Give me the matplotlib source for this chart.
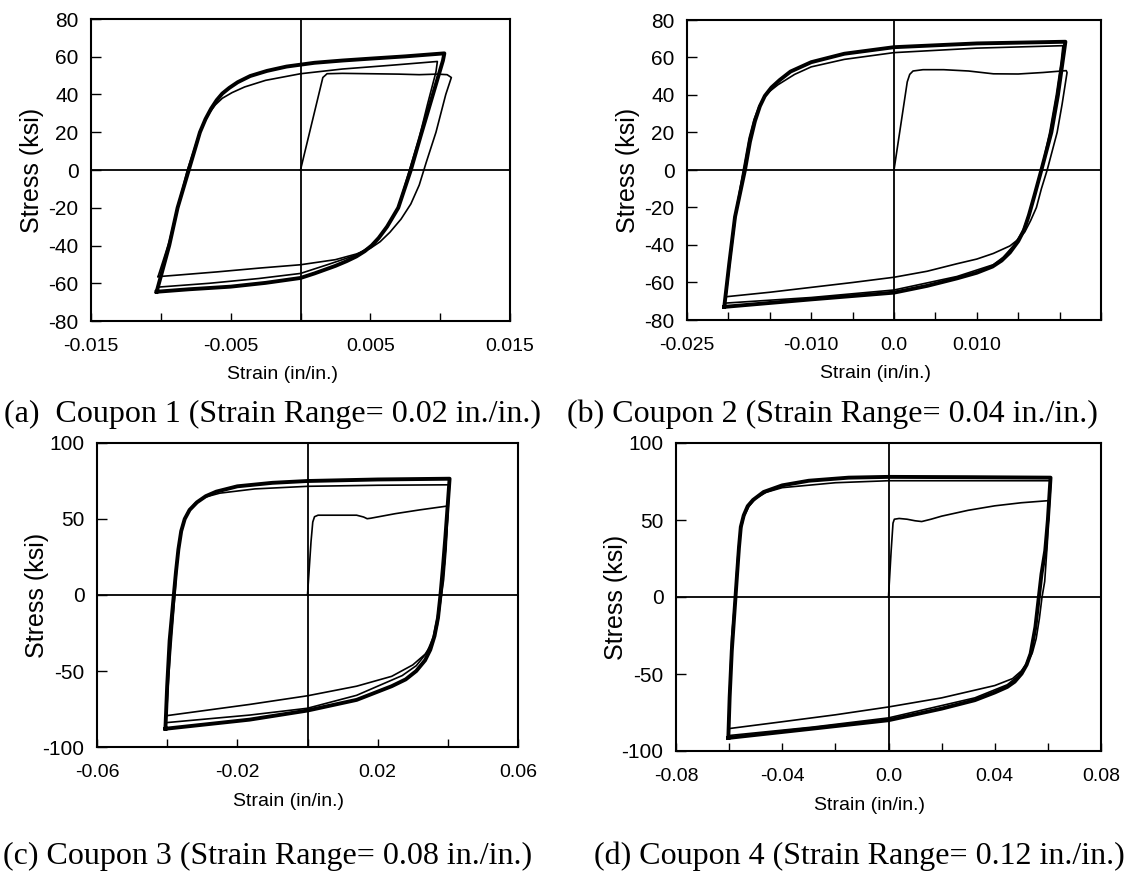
import matplotlib
matplotlib.use("Agg")
import matplotlib.pyplot as plt
import matplotlib.transforms as mtransforms

# ---- Coupon 1 (strain range 0.02) ----
a_first_x = [0.0, 0.0016, 0.0019, 0.0030, 0.0050, 0.0070, 0.0085, 0.0098, 0.0105, 0.0108,
             0.0104, 0.0097, 0.0090, 0.0085, 0.0079, 0.0072, 0.0064, 0.0057, 0.0050, 0.0040,
             0.0025, 0.0, -0.0030, -0.0060, -0.0090, -0.0102]
a_first_y = [0.0, 49.0, 51.0, 51.2, 51.0, 50.8, 50.5, 50.8, 50.5, 49.0,
             40.0, 20.0, 4.0, -8.0, -18.0, -26.0, -33.0, -38.0, -41.5, -44.5,
             -47.5, -50.2, -52.0, -54.0, -55.8, -56.5]
a_second_x = [-0.0102, -0.0094, -0.0088, -0.0081, -0.0073, -0.0069, -0.0065, -0.0061, -0.0056,
              -0.0049, -0.0040, -0.0025, 0.0, 0.0030, 0.0065, 0.0098, 0.0097, 0.0091, 0.0085,
              0.0078, 0.0070, 0.0062, 0.0056, 0.0050, 0.0040, 0.0020, 0.0, -0.0030, -0.0065,
              -0.0101]
a_second_y = [-56.5, -38.0, -20.0, 0.0, 18.0, 25.0, 30.5, 34.5, 38.0,
              41.0, 44.0, 47.5, 51.0, 53.5, 55.5, 57.5, 52.0, 35.0, 17.0,
              0.0, -20.0, -30.0, -36.0, -40.5, -45.0, -50.0, -54.8, -57.5, -60.0,
              -62.0]
a_stable_x = [-0.0103, -0.0094, -0.0088, -0.0080, -0.0072, -0.0068, -0.0064, -0.0060, -0.0056,
              -0.0051, -0.0045, -0.0036, -0.0024, -0.0010, 0.0010, 0.0030, 0.0050, 0.0075, 0.0103,
              0.0102, 0.0094, 0.0086, 0.0079, 0.0070, 0.0062, 0.0056, 0.0051, 0.0046, 0.0040,
              0.0033, 0.0025, 0.0010, 0.0, -0.0025, -0.0050, -0.0080, -0.0103]
a_stable_y = [-64.5, -40.0, -20.0, 0.0, 20.0, 27.0, 32.5, 37.0, 40.5,
              43.5, 46.5, 49.8, 52.5, 54.8, 56.8, 58.0, 59.0, 60.2, 61.8,
              58.0, 38.0, 18.0, 0.0, -20.0, -30.0, -36.0, -40.0, -43.0, -45.8,
              -48.3, -50.8, -54.8, -57.2, -59.8, -61.8, -63.2, -64.5]

# ---- Coupon 2 (strain range 0.04) ----
b_first_x = [0.0, 0.0016, 0.0019, 0.0023, 0.0035, 0.0060, 0.0090, 0.0120, 0.0150, 0.0180, 0.0208,
             0.0209, 0.0203, 0.0197, 0.0191, 0.0185, 0.0178, 0.0172, 0.0165, 0.0158, 0.0150,
             0.0140, 0.0120, 0.0100, 0.0076, 0.0040, 0.0, -0.0050, -0.0100, -0.0150, -0.0203]
b_first_y = [0.0, 47.0, 51.0, 52.8, 53.5, 53.5, 52.8, 51.3, 51.2, 52.0, 53.0,
             52.0, 35.0, 20.0, 10.0, 0.0, -10.0, -20.0, -27.0, -33.0, -37.0,
             -40.5, -44.5, -47.5, -50.0, -54.0, -57.2, -60.0, -62.6, -65.2, -67.6]
b_second_x = [-0.0203, -0.0197, -0.0190, -0.0182, -0.0175, -0.0169, -0.0163, -0.0157, -0.0150,
              -0.0140, -0.0120, -0.0100, -0.0060, 0.0, 0.0100, 0.0204, 0.0202, 0.0196, 0.0188,
              0.0178, 0.0170, 0.0162, 0.0155, 0.0145, 0.0132, 0.0120, 0.0076, 0.0, -0.0100,
              -0.0204]
b_second_y = [-67.6, -45.0, -20.0, 0.0, 17.0, 27.0, 34.0, 38.5, 42.0,
              45.5, 51.0, 55.0, 59.0, 62.6, 65.0, 66.3, 58.0, 40.0, 20.0,
              0.0, -13.0, -25.0, -33.0, -40.0, -46.5, -50.5, -56.8, -64.0, -68.0,
              -71.0]
b_stable_x = [-0.0205, -0.0199, -0.0192, -0.0180, -0.0174, -0.0168, -0.0162, -0.0156, -0.0148,
              -0.0138, -0.0125, -0.0100, -0.0060, 0.0, 0.0100, 0.0207, 0.0205, 0.0198, 0.0190,
              0.0178, 0.0170, 0.0163, 0.0157, 0.0150, 0.0140, 0.0130, 0.0119, 0.0100, 0.0076,
              0.0040, 0.0, -0.0100, -0.0205]
b_stable_y = [-73.0, -50.0, -25.0, 0.0, 15.0, 26.0, 34.0, 39.5, 44.0,
              48.0, 52.5, 57.5, 62.0, 65.5, 67.5, 68.4, 62.0, 40.0, 20.0,
              0.0, -13.0, -24.0, -32.0, -38.0, -44.0, -48.3, -51.5, -54.8, -57.8,
              -61.8, -65.4, -69.0, -73.0]

# ---- Coupon 3 (strain range 0.08) ----
c_first_x = [0.0, 0.0010, 0.0015, 0.0020, 0.0030, 0.0060, 0.0100, 0.0140, 0.0160, 0.0170, 0.0180,
             0.0250, 0.0320, 0.0401, 0.0395, 0.0388, 0.0382, 0.0370, 0.0355, 0.0335, 0.0300,
             0.0240, 0.0140, 0.0, -0.0165, -0.0402]
c_first_y = [0.0, 35.0, 48.0, 51.5, 52.5, 52.5, 52.5, 52.5, 51.3, 50.2, 50.5,
             53.5, 56.0, 58.6, 30.0, 10.0, 0.0, -20.0, -32.0, -39.0, -46.0,
             -53.5, -60.0, -66.3, -72.0, -79.4]
c_second_x = [-0.0402, -0.0396, -0.0388, -0.0378, -0.0372, -0.0365, -0.0355, -0.0340, -0.0320,
              -0.0290, -0.0250, -0.0150, 0.0, 0.0200, 0.0405, 0.0399, 0.0390, 0.0379, 0.0370,
              0.0358, 0.0340, 0.0310, 0.0270, 0.0140, 0.0, -0.0165, -0.0404]
c_second_y = [-79.4, -55.0, -30.0, 0.0, 20.0, 35.0, 47.0, 55.0, 60.5,
              64.5, 67.0, 69.8, 71.5, 72.2, 72.5, 50.0, 20.0, 0.0, -15.0,
              -28.0, -38.0, -46.5, -53.0, -66.0, -74.5, -79.0, -84.0]
c_stable_x = [-0.0405, -0.0400, -0.0393, -0.0381, -0.0375, -0.0368, -0.0360, -0.0350, -0.0336,
              -0.0315, -0.0290, -0.0260, -0.0200, -0.0100, 0.0, 0.0200, 0.0405, 0.0399, 0.0393,
              0.0386, 0.0379, 0.0372, 0.0362, 0.0350, 0.0335, 0.0310, 0.0280, 0.0240, 0.0140,
              0.0, -0.0165, -0.0405]
c_stable_y = [-88.0, -60.0, -30.0, 0.0, 15.0, 30.0, 42.0, 50.0, 56.0,
              61.0, 65.0, 68.0, 71.5, 73.8, 75.0, 76.0, 76.5, 57.0, 38.0,
              18.0, 0.0, -15.0, -27.0, -36.0, -43.0, -50.0, -55.5, -60.0, -69.0,
              -76.0, -82.0, -88.0]

# ---- Coupon 4 (strain range 0.12) ----
d_first_x = [0.0, 0.0010, 0.0017, 0.0022, 0.0040, 0.0070, 0.0100, 0.0125, 0.0160, 0.0200, 0.0300,
             0.0400, 0.0500, 0.0605, 0.0598, 0.0588, 0.0578, 0.0568, 0.0556, 0.0542, 0.0525,
             0.0500, 0.0467, 0.0400, 0.0200, 0.0, -0.0200, -0.0400, -0.0603]
d_first_y = [0.0, 30.0, 48.0, 50.5, 51.0, 50.5, 49.5, 49.0, 50.5, 52.5, 56.3,
             59.2, 61.2, 62.6, 35.0, 10.0, 0.0, -14.0, -27.0, -36.0, -42.0,
             -48.0, -53.0, -57.5, -65.5, -71.4, -76.5, -81.0, -85.5]
d_second_x = [-0.0603, -0.0597, -0.0590, -0.0577, -0.0572, -0.0566, -0.0558, -0.0545, -0.0525,
              -0.0500, -0.0460, -0.0400, -0.0200, 0.0, 0.0300, 0.0612, 0.0602, 0.0590, 0.0576,
              0.0566, 0.0553, 0.0535, 0.0515, 0.0490, 0.0447, 0.0325, 0.0, -0.0287, -0.0603]
d_second_y = [-85.5, -55.0, -25.0, 0.0, 15.0, 30.0, 42.0, 52.0, 59.0,
              64.0, 68.0, 71.0, 74.2, 75.5, 75.5, 75.5, 50.0, 30.0, 15.0,
              0.0, -19.5, -36.0, -45.0, -51.0, -57.0, -65.5, -78.5, -84.5, -90.0]
d_stable_x = [-0.0603, -0.0598, -0.0590, -0.0576, -0.0570, -0.0563, -0.0556, -0.0545, -0.0530,
              -0.0510, -0.0470, -0.0400, -0.0300, -0.0150, 0.0, 0.0300, 0.0610, 0.0600, 0.0590,
              0.0576, 0.0566, 0.0553, 0.0535, 0.0520, 0.0501, 0.0475, 0.0447, 0.0400, 0.0325,
              0.0200, 0.0, -0.0287, -0.0603]
d_stable_y = [-91.5, -65.0, -35.0, 0.0, 15.0, 32.0, 45.5, 53.0, 59.0,
              63.0, 68.2, 72.5, 75.5, 77.5, 78.0, 77.8, 77.5, 50.0, 30.0,
              15.0, 0.0, -19.5, -36.8, -44.0, -49.8, -55.0, -58.4, -62.0, -67.0,
              -72.5, -80.0, -85.5, -91.5]

# axis ticks / labels
a_xticks = [-0.015, -0.010, -0.005, 0.0, 0.005, 0.010, 0.015]
a_xlabels = ['-0.015', '', '-0.005', '', '0.005', '', '0.015']
b_xticks = [-0.025, -0.020, -0.015, -0.010, -0.005, 0.0, 0.005, 0.010, 0.015, 0.020, 0.025]
b_xlabels = ['-0.025', '', '', '-0.010', '', '0.0', '', '0.010', '', '', '']
c_xticks = [-0.06, -0.04, -0.02, 0.0, 0.02, 0.04, 0.06]
c_xlabels = ['-0.06', '', '-0.02', '', '0.02', '', '0.06']
d_xticks = [-0.08, -0.06, -0.04, -0.02, 0.0, 0.02, 0.04, 0.06, 0.08]
d_xlabels = ['-0.08', '', '-0.04', '', '0.0', '', '0.04', '', '0.08']
yticks_80 = [-80, -60, -40, -20, 0, 20, 40, 60, 80]
yticks_100 = [-100, -50, 0, 50, 100]

captions = ['(a)  Coupon 1 (Strain Range= 0.02 in./in.)',
            '(b) Coupon 2 (Strain Range= 0.04 in./in.)',
            '(c) Coupon 3 (Strain Range= 0.08 in./in.)',
            '(d) Coupon 4 (Strain Range= 0.12 in./in.)']

W, H = 1126, 888
fig = plt.figure(figsize=(W / 100, H / 100), dpi=100)

sans = ['Liberation Sans', 'DejaVu Sans']
down = mtransforms.ScaledTranslation(0, -4 / 100, fig.dpi_scale_trans)


def make_axes(left, top, right, bottom):
    return fig.add_axes([left / W, 1 - bottom / H, (right - left) / W, (bottom - top) / H])


def style(ax, xlim, xticks, xlabels, ylim, yticks):
    ax.set_xlim(xlim)
    ax.set_ylim(ylim)
    ax.axhline(0, color='black', lw=1.3, zorder=1)
    ax.axvline(0, color='black', lw=1.3, zorder=1)
    ax.set_xticks(xticks)
    ax.set_xticklabels(xlabels, family=sans, fontsize=14)
    ax.set_yticks(yticks)
    ax.set_yticklabels([str(v) for v in yticks], family=sans, fontsize=15)
    for lab in ax.get_yticklabels():
        lab.set_transform(lab.get_transform() + down)
    ax.tick_params(axis='x', direction='in', length=6, width=1.0, pad=12)
    ax.tick_params(axis='y', direction='in', length=7, width=1.0, pad=9)
    for s in ax.spines.values():
        s.set_linewidth(1.5)
    ax.set_xlabel('Strain (in/in.)', family=sans, fontsize=14)
    ax.xaxis.set_label_coords(0.456, -0.15)
    ax.set_ylabel('Stress (ksi)', family=sans, fontsize=18)
    ax.yaxis.set_label_coords(-0.113, 0.5)


def draw(ax, first, second, stable):
    ax.plot(stable[0], stable[1], color='black', lw=2.8, solid_joinstyle='round', zorder=3)
    ax.plot(second[0], second[1], color='black', lw=1.2, zorder=3)
    ax.plot(first[0], first[1], color='black', lw=1.2, zorder=3)


ax1 = make_axes(91, 19, 510, 321)
draw(ax1, (a_first_x, a_first_y), (a_second_x, a_second_y), (a_stable_x, a_stable_y))
style(ax1, (-0.015, 0.015), a_xticks, a_xlabels, (-80, 80), yticks_80)

ax2 = make_axes(687, 20, 1101, 320)
draw(ax2, (b_first_x, b_first_y), (b_second_x, b_second_y), (b_stable_x, b_stable_y))
style(ax2, (-0.025, 0.025), b_xticks, b_xlabels, (-80, 80), yticks_80)

ax3 = make_axes(97, 443, 518, 747)
draw(ax3, (c_first_x, c_first_y), (c_second_x, c_second_y), (c_stable_x, c_stable_y))
style(ax3, (-0.06, 0.06), c_xticks, c_xlabels, (-100, 100), yticks_100)

ax4 = make_axes(676, 443, 1101, 751)
draw(ax4, (d_first_x, d_first_y), (d_second_x, d_second_y), (d_stable_x, d_stable_y))
style(ax4, (-0.08, 0.08), d_xticks, d_xlabels, (-100, 100), yticks_100)

cap_pos = [(4, 414), (567, 414), (3, 856), (594, 856)]
for (cx, cy), txt in zip(cap_pos, captions):
    fig.text(cx / W, 1 - cy / H, txt, family=['Liberation Serif', 'DejaVu Serif'],
             fontsize=23, ha='left', va='center')

fig.savefig('out.png', dpi=100)
